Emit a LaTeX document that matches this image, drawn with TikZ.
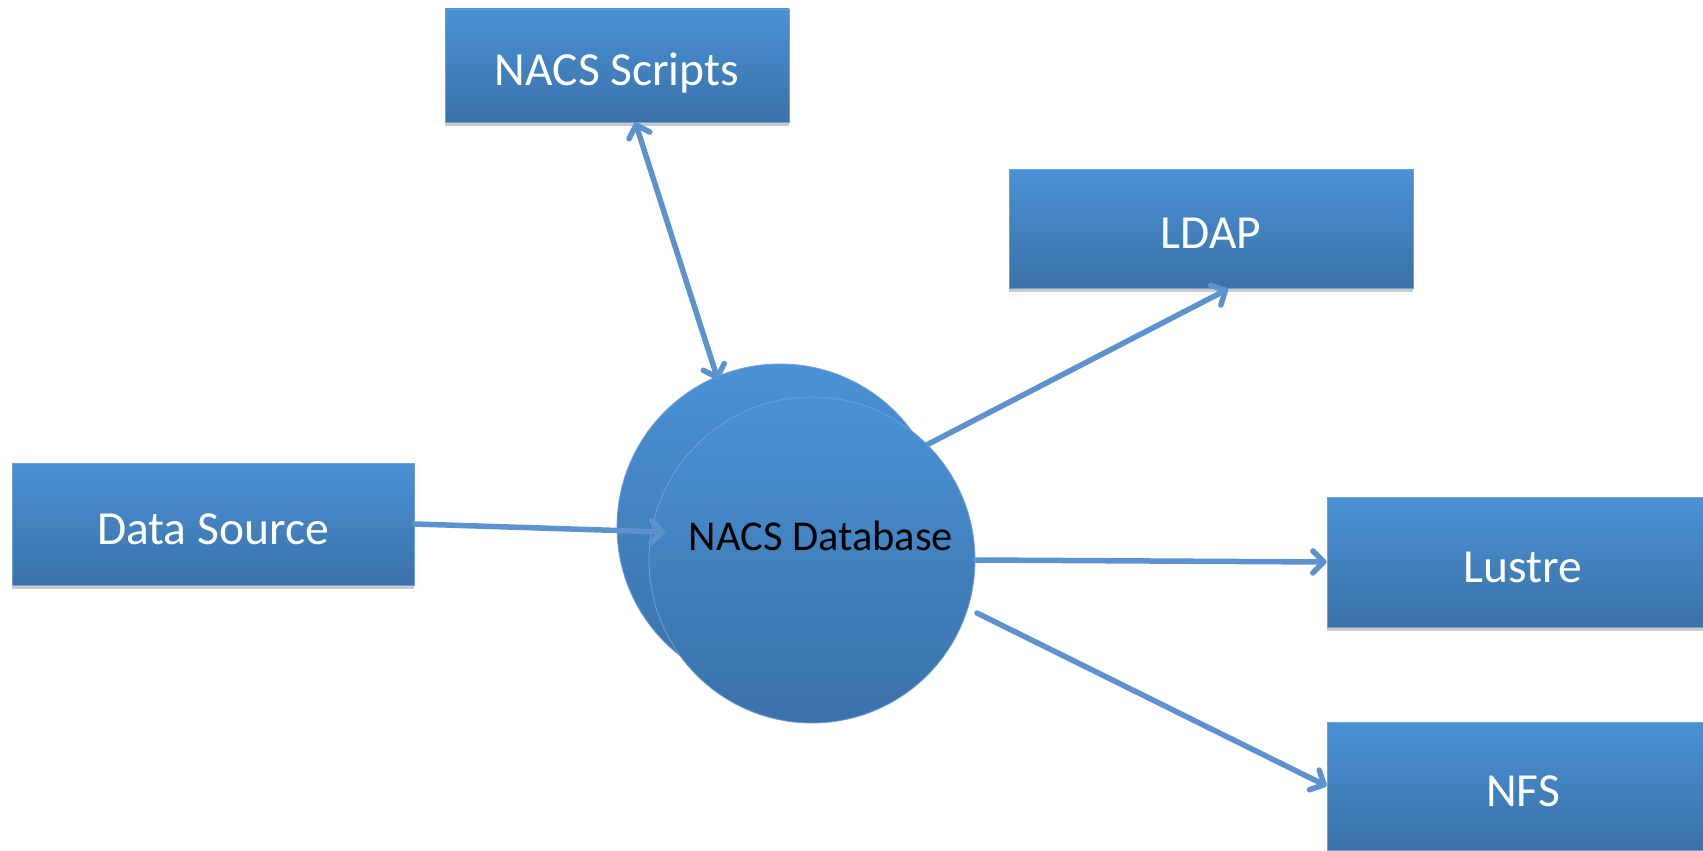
\documentclass[tikz,border=0pt]{standalone}
\usepackage{fontspec}
\setmainfont{Carlito}
\usetikzlibrary{arrows.meta,shadows}
\definecolor{boxtop}{RGB}{74,145,213}
\definecolor{boxbot}{RGB}{58,114,168}
\definecolor{boxedge}{RGB}{110,160,215}
\definecolor{linkcol}{RGB}{92,146,206}
\tikzset{
  box/.style={rectangle, top color=boxtop, bottom color=boxbot, draw=boxedge, line width=0.8pt,
    text=white, font=\fontsize{47.5}{52}\selectfont, text height=40pt, text depth=0pt,
    inner sep=0pt, drop shadow={shadow xshift=0pt, shadow yshift=-4pt, opacity=0.35, fill=black!60}},
  dbcirc/.style={circle, minimum size=326pt, inner sep=0pt, top color=boxtop, bottom color=boxbot,
    draw=boxedge, line width=0.8pt},
  link/.style={draw=linkcol, line width=5.5pt, line cap=round, line join=round,
    -{Straight Barb[length=11pt,width=22pt,line cap=round,line join=round]}},
  dlink/.style={link, {Straight Barb[length=11pt,width=22pt,line cap=round,line join=round]}-{Straight Barb[length=11pt,width=22pt,line cap=round,line join=round]}}
}
\begin{document}
\begin{tikzpicture}[x=1pt,y=-1pt]
\useasboundingbox (0,0) rectangle (1703,851);
\clip (0,0) rectangle (1703,851);
% nodes
\node[box, minimum width=344pt, minimum height=113pt] (scripts) at (617,65.5) {NACS Scripts};
\node[box, minimum width=404pt, minimum height=119pt] (ldap) at (1211,228.5) {LDAP};
\node[box, minimum width=402pt, minimum height=122pt] (ds) at (213,524) {Data Source};
\node[box, minimum width=392pt, minimum height=130pt] (lustre) at (1523,562) {Lustre};
\node[box, minimum width=392pt, minimum height=128pt] (nfs) at (1523,786) {NFS};
\node[dbcirc] (dbb) at (780,527) {};
\node[dbcirc] (db) at (812,560) {};
\node[anchor=base, font=\fontsize{42.5}{46}\selectfont, text=black, inner sep=0pt] (dbtext) at (821,550) {NACS Database};
% connector ends
\coordinate (scin) at (718,380);
\coordinate (dsin) at (665,532);
\coordinate (ldapin) at (1228,289);
\coordinate (nfsout) at (977,613);
% connectors
\draw[dlink] (scripts) -- (scin);
\draw[link] (ds.east) -- (dsin);
\draw[link] (db.45) -- (ldapin);
\draw[link] (db.east) -- (lustre.west);
\draw[link] (nfsout) -- (nfs.west);
\end{tikzpicture}
\end{document}
